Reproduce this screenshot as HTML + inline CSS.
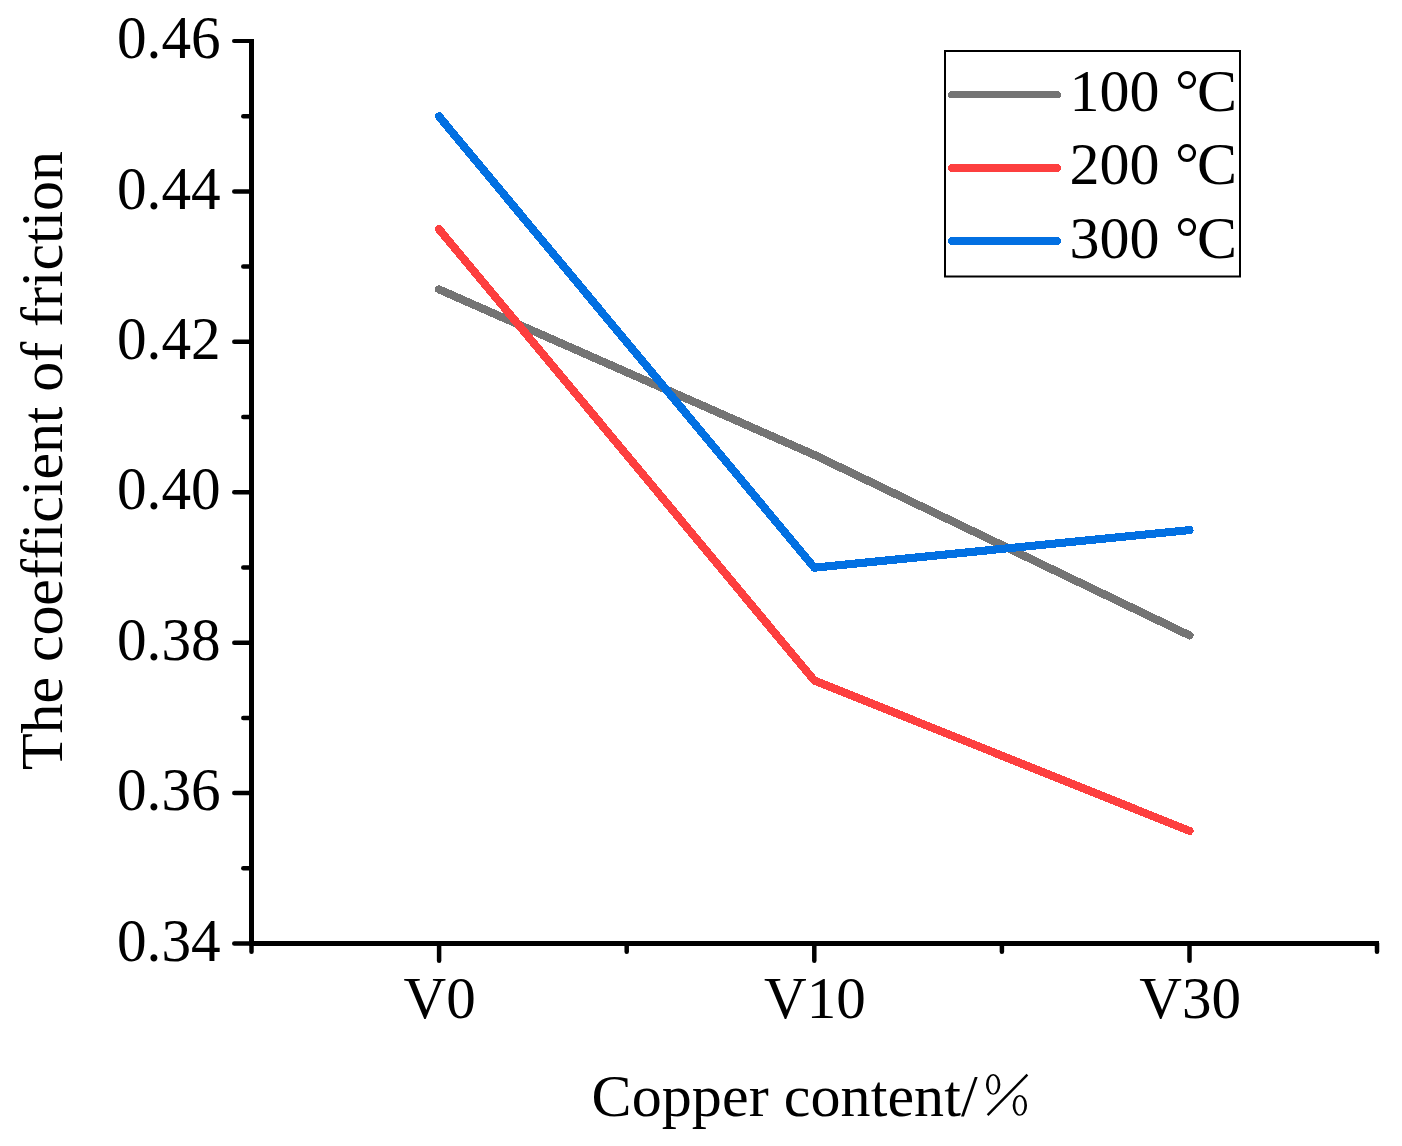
<!DOCTYPE html>
<html>
<head>
<meta charset="utf-8">
<title>Coefficient of friction vs copper content</title>
<style>
html,body{margin:0;padding:0;background:#fff;}
body{width:1402px;height:1146px;overflow:hidden;position:relative;font-family:"Liberation Serif",serif;}
svg{position:absolute;left:0;top:0;display:block;}
text{font-family:"Liberation Serif",serif;font-size:60px;fill:#000;font-variant-ligatures:none;font-kerning:none;}
</style>
</head>
<body>
<svg width="1402" height="1146" viewBox="0 0 1402 1146">
<rect x="0" y="0" width="1402" height="1146" fill="#ffffff"/>

<!-- data lines -->
<g fill="none" stroke-width="8.1" stroke-linecap="round" stroke-linejoin="round" shape-rendering="crispEdges" transform="translate(-0.1,0.2)">
<polyline id="l100" stroke="#747474" points="439.1,289.2 814.4,454.7 1189.6,635.2"/>
<polyline id="l200" stroke="#fd3f3f" points="439.1,229.0 814.4,680.3 1189.6,830.7"/>
<polyline id="l300" stroke="#0270e2" points="439.1,116.2 814.4,567.5 1189.6,529.9"/>
</g>

<!-- axes -->
<g stroke="#000" stroke-width="4.5" stroke-linecap="round" fill="none" id="yticks">
<line x1="234" y1="41.0" x2="251" y2="41.0" stroke-width="4"/>
<line x1="234.3" y1="191.4" x2="251" y2="191.4"/>
<line x1="234.3" y1="341.8" x2="251" y2="341.8"/>
<line x1="234.3" y1="492.3" x2="251" y2="492.3"/>
<line x1="234.3" y1="642.7" x2="251" y2="642.7"/>
<line x1="234.3" y1="793.1" x2="251" y2="793.1"/>
<line x1="234.3" y1="943.5" x2="251" y2="943.5"/>
<line x1="243.3" y1="116.2" x2="251" y2="116.2"/>
<line x1="243.3" y1="266.6" x2="251" y2="266.6"/>
<line x1="243.3" y1="417.0" x2="251" y2="417.0"/>
<line x1="243.3" y1="567.5" x2="251" y2="567.5"/>
<line x1="243.3" y1="717.9" x2="251" y2="717.9"/>
<line x1="243.3" y1="868.3" x2="251" y2="868.3"/>
</g>
<g stroke="#000" stroke-width="4.5" stroke-linecap="round" fill="none" id="xticks">
<line x1="251.5" y1="943.5" x2="251.5" y2="951.8"/>
<line x1="439.1" y1="943.5" x2="439.1" y2="960.8"/>
<line x1="626.7" y1="943.5" x2="626.7" y2="951.8"/>
<line x1="814.3" y1="943.5" x2="814.3" y2="960.8"/>
<line x1="1001.9" y1="943.5" x2="1001.9" y2="951.8"/>
<line x1="1189.5" y1="943.5" x2="1189.5" y2="960.8"/>
<line x1="1377.0" y1="943.5" x2="1377.0" y2="951.8"/>
</g>
<g fill="#000" shape-rendering="crispEdges" id="axes">
<rect x="249" y="39" width="5" height="907"/>
<rect x="249" y="941" width="1130" height="5"/>
</g>

<!-- y tick labels -->
<g text-anchor="end" id="ylabels" transform="translate(220.6,0) scale(0.987,1.015) translate(-221,0)">
<text x="221" y="57.34">0.46</text>
<text x="221" y="205.53">0.44</text>
<text x="221" y="353.73">0.42</text>
<text x="221" y="501.92">0.40</text>
<text x="221" y="650.12">0.38</text>
<text x="221" y="798.31">0.36</text>
<text x="221" y="946.50">0.34</text>
</g>
<!-- x tick labels -->
<g text-anchor="middle" id="xlabels">
<text x="439.6" y="1018.3" transform="translate(439.6,0) scale(0.985,1) translate(-439.6,0)">V0</text>
<text x="814.9" y="1018.3" transform="translate(814.9,0) scale(0.985,1) translate(-814.9,0)">V10</text>
<text x="1190.1" y="1018.3" transform="translate(1190.1,0) scale(0.985,1) translate(-1190.1,0)">V30</text>
</g>

<!-- axis titles -->
<text id="xtitle" x="591.6" y="1116" textLength="386" lengthAdjust="spacing">Copper content/</text>
<g id="pct">
<line x1="987.6" y1="1115.2" x2="1027.4" y2="1074.6" stroke="#000" stroke-width="2.4"/>
<path fill="#000" fill-rule="evenodd" d="M985.95,1084.45a7.20,10.40 0 1,0 14.40,0a7.20,10.40 0 1,0 -14.40,0zM988.65,1084.45a4.50,9.00 0 1,0 9.00,0a4.50,9.00 0 1,0 -9.00,0z"/>
<path fill="#000" fill-rule="evenodd" d="M1012.65,1105.40a7.20,10.40 0 1,0 14.40,0a7.20,10.40 0 1,0 -14.40,0zM1015.35,1105.40a4.50,9.00 0 1,0 9.00,0a4.50,9.00 0 1,0 -9.00,0z"/>
</g>
<text id="ytitle" transform="translate(62,770) rotate(-90)" textLength="619" lengthAdjust="spacing">The coefficient of friction</text>

<!-- legend -->
<rect x="945" y="51" width="295" height="225.5" fill="#fff" stroke="#000" stroke-width="2"/>
<g shape-rendering="crispEdges" fill="none" stroke-linecap="round">
<line x1="951.5" y1="94.5" x2="1057.5" y2="94.5" stroke="#747474" stroke-width="7"/>
<line x1="952" y1="168" x2="1057" y2="168" stroke="#fd3f3f" stroke-width="8"/>
<line x1="952" y1="241" x2="1057" y2="241" stroke="#0270e2" stroke-width="8"/>
</g>
<g id="legtxt">
<text x="1069.5" y="110.7">100 <tspan dx="0.5">°</tspan><tspan dx="-2">C</tspan></text>
<text x="1069.5" y="184.3">200 <tspan dx="0.5">°</tspan><tspan dx="-2">C</tspan></text>
<text x="1069.5" y="257.8">300 <tspan dx="0.5">°</tspan><tspan dx="-2">C</tspan></text>
</g>
</svg>
</body>
</html>
